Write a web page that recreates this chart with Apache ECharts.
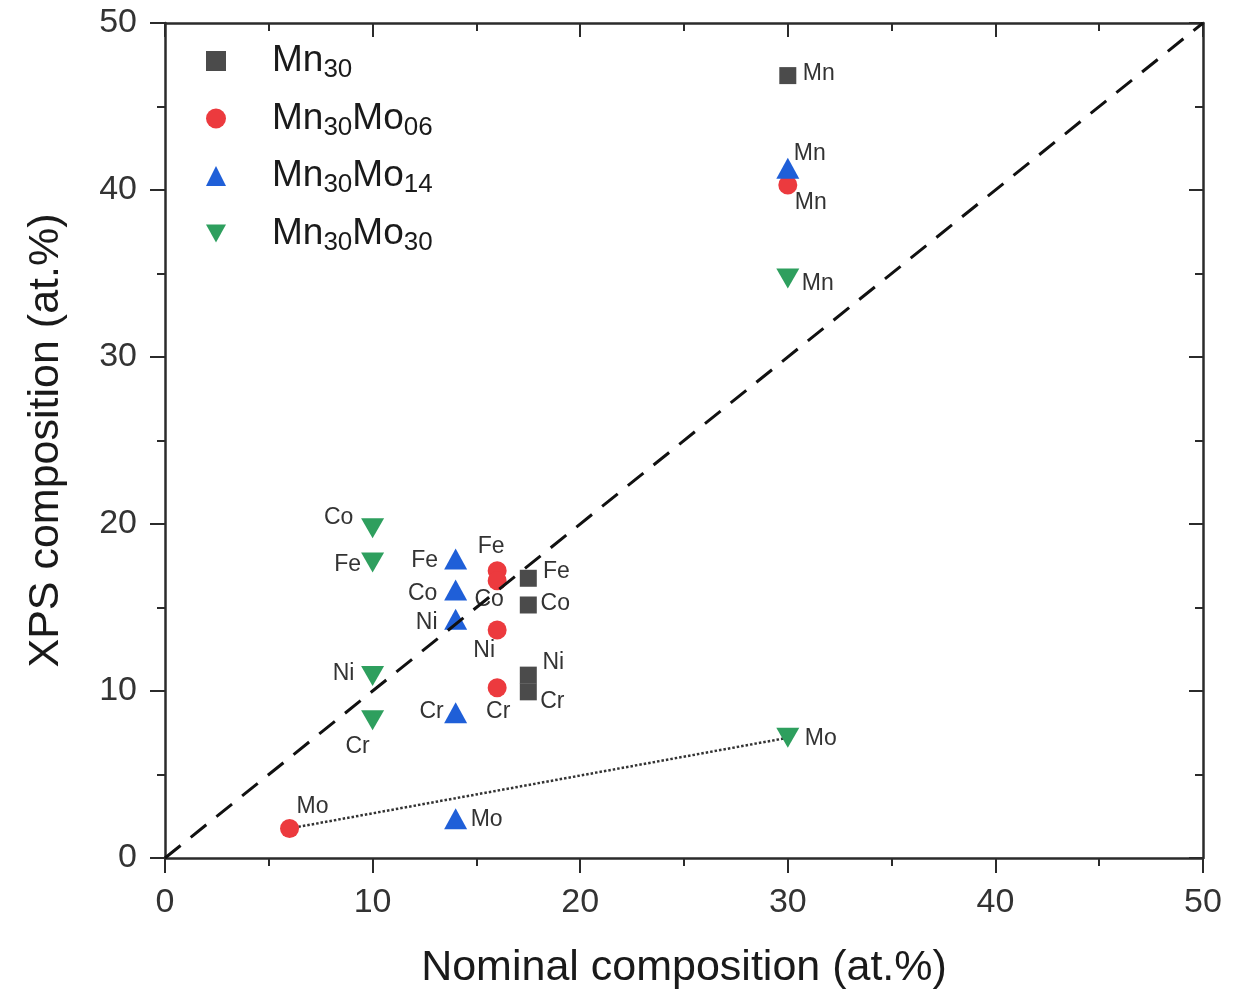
<!DOCTYPE html>
<html>
<head>
<meta charset="utf-8">
<script src="https://cdn.jsdelivr.net/npm/echarts@6/dist/echarts.min.js"></script>
<style>html,body{margin:0;padding:0;background:#fff}#c{width:1240px;height:992px}</style>
</head>
<body>
<div id="c"></div>
<script>
// ---- data ----
const seriesNames = ['Mn30', 'Mn30Mo06', 'Mn30Mo14', 'Mn30Mo30'];
const mn30El = ['Mn', 'Fe', 'Co', 'Ni', 'Cr'];
const mn30X = [30, 17.5, 17.5, 17.5, 17.5];
const mn30Y = [46.85, 16.75, 15.15, 10.95, 9.95];
const mo06El = ['Mn', 'Fe', 'Co', 'Ni', 'Cr', 'Mo'];
const mo06X = [30, 16, 16, 16, 16, 6];
const mo06Y = [40.3, 17.2, 16.6, 13.65, 10.2, 1.77];
const mo14El = ['Mn', 'Fe', 'Co', 'Ni', 'Cr', 'Mo'];
const mo14X = [30, 14, 14, 14, 14, 14];
const mo14Y = [41.3, 17.9, 16.05, 14.3, 8.7, 2.35];
const mo30El = ['Mn', 'Co', 'Fe', 'Ni', 'Cr', 'Mo'];
const mo30X = [30, 10, 10, 10, 10, 30];
const mo30Y = [34.7, 19.75, 17.7, 10.9, 8.25, 7.2];
const xTicks = [0, 10, 20, 30, 40, 50];
const yTicks = [0, 10, 20, 30, 40, 50];

// ---- label placement (text centre offset from marker, px) ----
const labelOffsets = {
  Mn30: {Mn: [31, -2], Fe: [28, -7], Co: [27, -1], Ni: [25, -12], Cr: [24, 10]},
  Mn30Mo06: {Mn: [23, 18], Fe: [-6, -24], Co: [-8, 19], Ni: [-13, 21], Cr: [1, 24], Mo: [23, -22]},
  Mn30Mo14: {Mn: [22, -15], Fe: [-31, 2], Co: [-33, 4], Ni: [-29, 3], Cr: [-24, -1], Mo: [31, 1]},
  Mn30Mo30: {Mn: [30, 5], Co: [-34, -11], Fe: [-25, 2], Ni: [-29, -2], Cr: [-15, 26], Mo: [33, 1]}
};

const FONT = '"Liberation Sans", Arial, Helvetica, sans-serif';

function pts(name, els, xs, ys) {
  return els.map((e, i) => ({
    value: [xs[i], ys[i]],
    name: e,
    label: {offset: labelOffsets[name][e]}
  }));
}

const labelStyle = {
  show: true, position: 'inside', formatter: '{b}',
  fontSize: 23, color: '#333', fontFamily: FONT
};

const legendRich = {
  m: {fontSize: 37, lineHeight: 44, color: '#1a1a1a', fontFamily: FONT},
  s: {fontSize: 26, lineHeight: 26, padding: [18, 0, 0, 0], color: '#1a1a1a', fontFamily: FONT}
};
const legendText = {
  Mn30: '{m|Mn}{s|30}',
  Mn30Mo06: '{m|Mn}{s|30}{m|Mo}{s|06}',
  Mn30Mo14: '{m|Mn}{s|30}{m|Mo}{s|14}',
  Mn30Mo30: '{m|Mn}{s|30}{m|Mo}{s|30}'
};

const axisCommon = {
  type: 'value', min: 0, max: 50, interval: 10,
  axisLine: {show: true, onZero: false, lineStyle: {color: '#2b2b2b', width: 2.5}},
  splitLine: {show: false},
  minorTick: {show: true, splitNumber: 2, length: 8, lineStyle: {color: '#2b2b2b', width: 2}},
  minorSplitLine: {show: false}
};

const chart = echarts.init(document.getElementById('c'));
chart.setOption({
  animation: false,
  backgroundColor: '#fff',
  grid: {left: 165, right: 37, top: 23, bottom: 134, containLabel: false, outerBoundsMode: 'none'},
  legend: {
    data: seriesNames, orient: 'vertical', left: 206, top: 39, padding: 0,
    itemWidth: 20, itemHeight: 20, itemGap: 13.5,
    formatter: n => legendText[n],
    textStyle: {rich: legendRich, padding: [0, 0, 0, 41]}
  },
  xAxis: [
    Object.assign({}, axisCommon, {
      position: 'bottom',
      name: 'Nominal composition (at.%)', nameLocation: 'middle', nameGap: 89,
      nameTextStyle: {fontSize: 43, color: '#1a1a1a', fontFamily: FONT},
      axisTick: {show: true, inside: false, length: 15, lineStyle: {color: '#2b2b2b', width: 2}},
      axisLabel: {fontSize: 34, color: '#333', fontFamily: FONT, margin: 28,
        formatter: v => xTicks.includes(v) ? String(v) : ''}
    }),
    Object.assign({}, axisCommon, {
      position: 'top',
      axisTick: {show: true, inside: true, length: 14, lineStyle: {color: '#2b2b2b', width: 2}},
      axisLabel: {show: false}
    })
  ],
  yAxis: [
    Object.assign({}, axisCommon, {
      position: 'left',
      name: 'XPS composition (at.%)', nameLocation: 'middle', nameGap: 97, nameRotate: 90,
      nameTextStyle: {fontSize: 43, color: '#1a1a1a', fontFamily: FONT},
      axisTick: {show: true, inside: false, length: 15, lineStyle: {color: '#2b2b2b', width: 2}},
      axisLabel: {fontSize: 34, color: '#333', fontFamily: FONT, margin: 28,
        formatter: v => yTicks.includes(v) ? String(v) : ''}
    }),
    Object.assign({}, axisCommon, {
      position: 'right',
      axisTick: {show: true, inside: true, length: 14, lineStyle: {color: '#2b2b2b', width: 2}},
      axisLabel: {show: false}
    })
  ],
  series: [
    {
      name: 'Mn30', type: 'scatter', symbol: 'rect', symbolSize: 17, z: 3,
      itemStyle: {color: '#4b4b4b', opacity: 1}, label: labelStyle,
      data: pts('Mn30', mn30El, mn30X, mn30Y)
    },
    {
      name: 'Mn30Mo06', type: 'scatter', symbol: 'circle', symbolSize: 19, z: 3,
      itemStyle: {color: '#ec3a3e', opacity: 1}, label: labelStyle,
      data: pts('Mn30Mo06', mo06El, mo06X, mo06Y)
    },
    {
      name: 'Mn30Mo14', type: 'scatter', symbol: 'triangle', symbolSize: [23, 21], z: 3,
      itemStyle: {color: '#1f5fd8', opacity: 1}, label: labelStyle,
      data: pts('Mn30Mo14', mo14El, mo14X, mo14Y)
    },
    {
      name: 'Mn30Mo30', type: 'scatter', symbol: 'path://M0,0L10,0L5,9Z', symbolSize: [23, 20], z: 3,
      itemStyle: {color: '#2e9f5e', opacity: 1}, label: labelStyle,
      data: pts('Mn30Mo30', mo30El, mo30X, mo30Y)
    },
    {
      name: 'diag', type: 'line', z: 4, symbol: 'none', silent: true,
      lineStyle: {color: '#111', width: 3, type: [20, 13]},
      data: [[xTicks[0], yTicks[0]], [xTicks[xTicks.length - 1], yTicks[yTicks.length - 1]]]
    },
    {
      name: 'moLine', type: 'line', z: 2, symbol: 'none', silent: true,
      lineStyle: {color: '#333', width: 2.5, type: [2.5, 2]},
      data: [[mo06X[5], mo06Y[5]], [mo30X[5], mo30Y[5]]]
    }
  ]
});
</script>
</body>
</html>
